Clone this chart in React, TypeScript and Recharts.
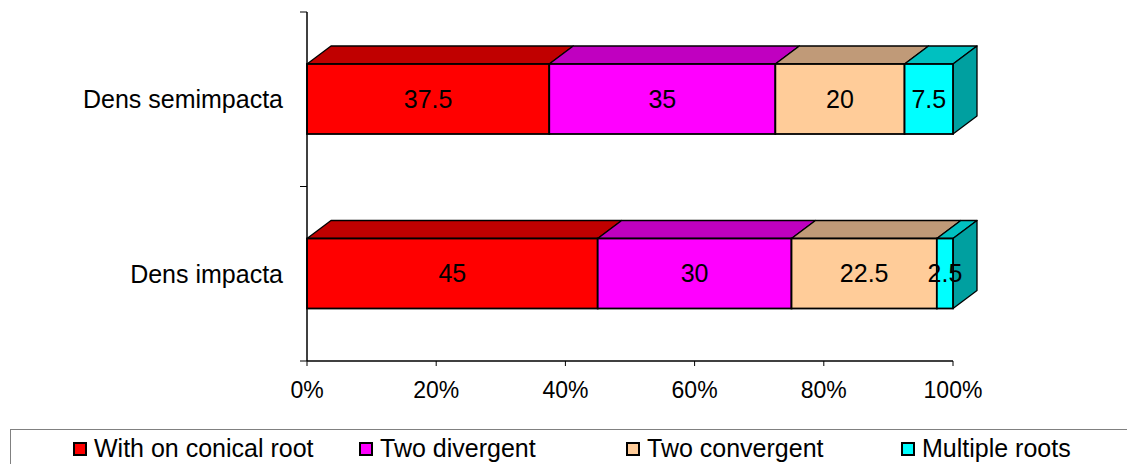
import React from 'react';
import { BarChart, Bar, XAxis, YAxis, LabelList } from 'recharts';

const categories = ['Dens semimpacta', 'Dens impacta'];
const conicalRoot = [37.5, 45];
const twoDivergent = [35, 30];
const twoConvergent = [20, 22.5];
const multipleRoots = [7.5, 2.5];
const percentTicks = [0, 20, 40, 60, 80, 100];

const data = categories.map((name, i) => ({
  name,
  conical: conicalRoot[i],
  divergent: twoDivergent[i],
  convergent: twoConvergent[i],
  multiple: multipleRoots[i],
}));

const series = [
  { key: 'conical', label: 'With on conical root', front: '#FF0000', top: '#C00000', side: '#A00000' },
  { key: 'divergent', label: 'Two divergent', front: '#FF00FF', top: '#C000C0', side: '#A000A0' },
  { key: 'convergent', label: 'Two convergent', front: '#FFCC99', top: '#C09A78', side: '#A08060' },
  { key: 'multiple', label: 'Multiple roots', front: '#00FFFF', top: '#00C0C0', side: '#00A0A0' },
];

const legendLeft = [72, 358, 625, 900];

const FONT = '"Liberation Sans", Arial, sans-serif';
const DX = 24;
const DY = -18;
const CAT_TICK_SIZE = 6;
const CAT_TICK_MARGIN = 18;
const EDGE_TICK = 7;

const Block3D = (props: any) => {
  const { x, y, width, height, fill, top, side, last } = props;
  if (!width || width <= 0) return null;
  return (
    <g>
      <polygon
        points={`${x},${y} ${x + width},${y} ${x + width + DX},${y + DY} ${x + DX},${y + DY}`}
        fill={top}
        stroke="#000"
        strokeWidth={1.3}
        strokeLinejoin="round"
      />
      {last && (
        <polygon
          points={`${x + width},${y} ${x + width + DX},${y + DY} ${x + width + DX},${y + height + DY} ${x + width},${y + height}`}
          fill={side}
          stroke="#000"
          strokeWidth={1.3}
          strokeLinejoin="round"
        />
      )}
      <rect x={x} y={y} width={width} height={height} fill={fill} stroke="#000" strokeWidth={1.8} />
    </g>
  );
};

// category label plus tick marks at the band edges (Excel style)
const CategoryTick = (props: any) => {
  const { x, y, payload, index, visibleTicksCount, height } = props;
  const half = payload && payload.offset ? payload.offset : height / visibleTicksCount / 2;
  const axisX = x + CAT_TICK_SIZE + CAT_TICK_MARGIN;
  return (
    <g>
      <text x={x} y={y} dy="0.355em" textAnchor="end" fill="#000" fontSize={25} fontFamily={FONT}>
        {payload.value}
      </text>
      <line x1={axisX - EDGE_TICK} x2={axisX} y1={y - half} y2={y - half} stroke="#000" />
      {index === visibleTicksCount - 1 && (
        <line x1={axisX - EDGE_TICK} x2={axisX} y1={y + half} y2={y + half} stroke="#000" />
      )}
    </g>
  );
};

const Legend3 = () => (
  <div
    style={{
      position: 'absolute',
      left: 10,
      top: 429,
      width: 1130,
      height: 44,
      border: '1px solid #808080',
      fontFamily: FONT,
      fontSize: 25,
      color: '#000',
    }}
  >
    {series.map((s, i) => (
      <div
        key={s.key}
        style={{
          position: 'absolute',
          left: legendLeft[i] - 10,
          top: 4,
          display: 'flex',
          alignItems: 'center',
          whiteSpace: 'nowrap',
        }}
      >
        <span
          style={{
            display: 'inline-block',
            width: 10,
            height: 10,
            background: s.front,
            border: '2px solid #000',
            marginRight: 7,
          }}
        />
        <span>{s.label}</span>
      </div>
    ))}
  </div>
);

export default function App() {
  return (
    <div style={{ position: 'absolute', left: 0, top: 0, width: 1127, height: 464, background: '#fff', overflow: 'hidden' }}>
      <BarChart
        width={1127}
        height={425}
        data={data}
        layout="vertical"
        margin={{ top: 12, right: 174, bottom: 34, left: 0 }}
        barSize={70}
      >
        <XAxis
          type="number"
          domain={[0, 100]}
          ticks={percentTicks}
          tickFormatter={(v: number) => `${v}%`}
          axisLine={{ stroke: '#000', strokeWidth: 1.5 }}
          tickLine={{ stroke: '#000' }}
          tickSize={5}
          tickMargin={16}
          tick={{ fill: '#000', fontSize: 23, fontFamily: FONT }}
          interval={0}
        />
        <YAxis
          type="category"
          dataKey="name"
          width={307}
          axisLine={{ stroke: '#000', strokeWidth: 1.5 }}
          tickLine={false}
          tickSize={CAT_TICK_SIZE}
          tickMargin={CAT_TICK_MARGIN}
          tick={<CategoryTick />}
          interval={0}
        />
        {series.map((s, i) => (
          <Bar
            key={s.key}
            dataKey={s.key}
            name={s.label}
            stackId="a"
            fill={s.front}
            isAnimationActive={false}
            shape={(p: any) => <Block3D {...p} top={s.top} side={s.side} last={i === series.length - 1} />}
          >
            <LabelList dataKey={s.key} position="center" fill="#000" fontSize={25} fontFamily={FONT} />
          </Bar>
        ))}
      </BarChart>
      <Legend3 />
    </div>
  );
}
